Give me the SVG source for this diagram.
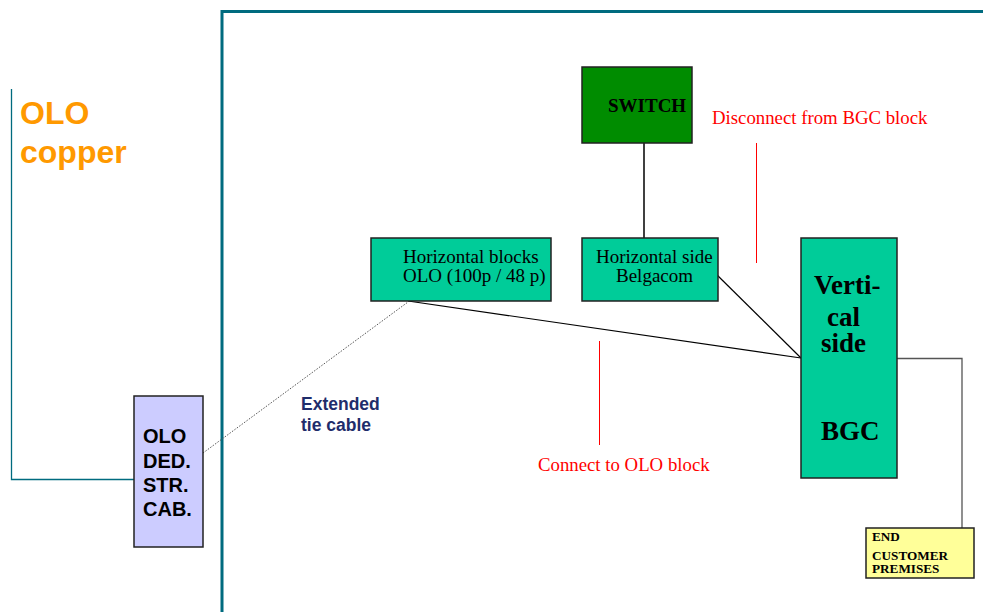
<svg xmlns="http://www.w3.org/2000/svg" width="983" height="612" viewBox="0 0 983 612">
<style>
.box{stroke:#222;stroke-width:1.5}
.teal{fill:#00CC99}
.tm{font-family:"Liberation Serif",serif;fill:#000}
.ar{font-family:"Liberation Sans",Arial,sans-serif;font-weight:bold}
.red{font-family:"Liberation Serif",serif;fill:#FF0000;font-size:18.8px}
</style>
<rect width="983" height="612" fill="#fff"/>
<g id="frame">
<path d="M222 612 V11.5 H983" fill="none" stroke="#006B7F" stroke-width="3"/>
</g>
<g id="olo-copper-area">
<path d="M11.5 89 V479.5 H134" fill="none" stroke="#006B7F" stroke-width="1.3"/>
<text class="ar" x="20" y="124" font-size="32" fill="#FF9900">OLO</text>
<text class="ar" x="20" y="163" font-size="32" fill="#FF9900">copper</text>
</g>
<g id="connectors" fill="none">
<line x1="203" y1="453" x2="408" y2="302" stroke="#555" stroke-width="1" stroke-dasharray="1.5,1.5"/>
<line x1="408" y1="301" x2="801" y2="358" stroke="#000" stroke-width="1.2"/>
<line x1="712" y1="270" x2="801" y2="358" stroke="#000" stroke-width="1.2"/>
<line x1="644" y1="143" x2="644" y2="238" stroke="#000" stroke-width="1.5"/>
<path d="M897 358.5 H962 V528" stroke="#555" stroke-width="1.3"/>
<line x1="756.5" y1="143" x2="756.5" y2="263" stroke="#FF0000" stroke-width="1"/>
<line x1="599.5" y1="341" x2="599.5" y2="445" stroke="#FF0000" stroke-width="1"/>
</g>
<g id="olo-ded-str-cab">
<rect class="box" x="134" y="396" width="69" height="151" fill="#CCCCFF"/>
<text class="ar" font-size="20" fill="#000"><tspan x="143" y="443">OLO</tspan><tspan x="143" y="468">DED.</tspan><tspan x="143" y="492">STR.</tspan><tspan x="143" y="516">CAB.</tspan></text>
</g>
<g id="extended-tie-cable-label">
<text class="ar" font-size="17.5" fill="#1F2D6B"><tspan x="301" y="410">Extended</tspan><tspan x="301" y="431">tie cable</tspan></text>
</g>
<g id="switch">
<rect class="box" x="582" y="67" width="110" height="76" fill="#008C00"/>
<text class="tm" x="608" y="112" font-size="19" font-weight="bold">SWITCH</text>
</g>
<g id="horizontal-blocks-olo">
<rect class="box teal" x="371" y="238" width="180" height="63"/>
<text class="tm" font-size="19"><tspan x="403" y="263">Horizontal blocks</tspan><tspan x="403" y="282">OLO (100p / 48 p)</tspan></text>
</g>
<g id="horizontal-side-belgacom">
<rect class="box teal" x="582" y="238" width="136" height="63"/>
<text class="tm" font-size="19"><tspan x="596" y="263">Horizontal side</tspan><tspan x="616" y="282">Belgacom</tspan></text>
</g>
<g id="vertical-side-bgc">
<rect class="box teal" x="801" y="238" width="96" height="240"/>
<text class="tm" font-size="27" font-weight="bold"><tspan x="814" y="294">Verti-</tspan><tspan x="827" y="326">cal</tspan><tspan x="821" y="352">side</tspan><tspan x="821" y="440">BGC</tspan></text>
</g>
<g id="end-customer-premises">
<rect class="box" x="866" y="528" width="108" height="50" fill="#FFFF99"/>
<text class="tm" font-size="13.2" font-weight="bold"><tspan x="872" y="541">END</tspan><tspan x="872" y="560">CUSTOMER</tspan><tspan x="872" y="573">PREMISES</tspan></text>
</g>
<g id="annotations">
<text class="red" x="712" y="124">Disconnect from BGC block</text>
<text class="red" x="538" y="471">Connect to OLO block</text>
</g>
</svg>
